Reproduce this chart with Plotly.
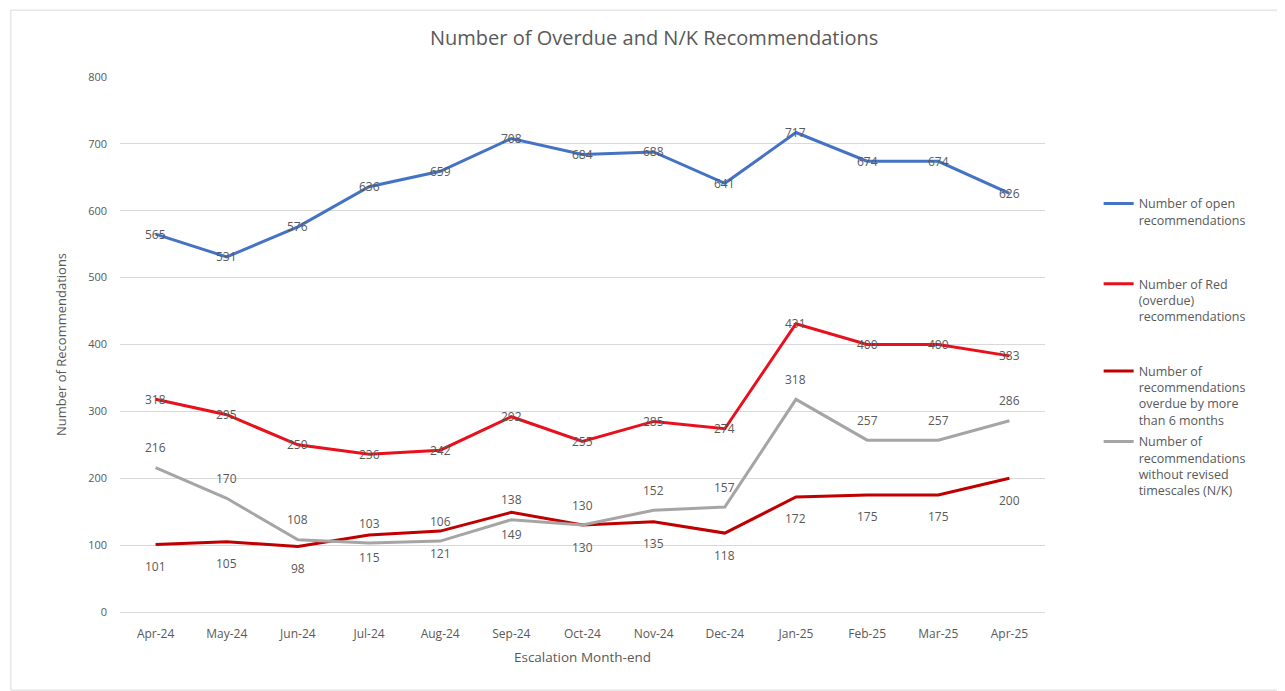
import plotly.graph_objects as go

months = ["Apr-24", "May-24", "Jun-24", "Jul-24", "Aug-24", "Sep-24", "Oct-24",
          "Nov-24", "Dec-24", "Jan-25", "Feb-25", "Mar-25", "Apr-25"]
open_recs = [565, 531, 576, 636, 659, 708, 684, 688, 641, 717, 674, 674, 626]
red_overdue = [318, 295, 250, 236, 242, 292, 255, 285, 274, 431, 400, 400, 383]
overdue_6m = [101, 105, 98, 115, 121, 149, 130, 135, 118, 172, 175, 175, 200]
no_timescale = [216, 170, 108, 103, 106, 138, 130, 152, 157, 318, 257, 257, 286]

names = [
    "Number of open<br>recommendations",
    "Number of Red<br>(overdue)<br>recommendations",
    "Number of<br>recommendations<br>overdue by more<br>than 6 months",
    "Number of<br>recommendations<br>without revised<br>timescales (N/K)",
]
colors = ["#4472C4", "#E8101C", "#C00000", "#A5A5A5"]
series = [open_recs, red_overdue, overdue_6m, no_timescale]
label_shift = [0, 0, -22, 20]   # vertical offset of data labels (px)
legends = ["legend", "legend2", "legend3", "legend4"]

FONT = "'Open Sans', 'Liberation Sans', sans-serif"
GREY_TXT = "#595959"

fig = go.Figure()
annotations = []
for name, col, vals, shift, lg in zip(names, colors, series, label_shift, legends):
    fig.add_trace(go.Scatter(
        x=months, y=vals, name=name, mode="lines",
        line=dict(color=col, width=3), legend=lg, hoverinfo="x+y",
    ))
    for m, v in zip(months, vals):
        annotations.append(dict(
            x=m, y=v, xref="x", yref="y", text=str(v), showarrow=False,
            yshift=shift, font=dict(family=FONT, size=12, color=GREY_TXT),
        ))

legend_common = dict(
    x=1.058, xanchor="left", yanchor="top",
    font=dict(family=FONT, size=12.5, color=GREY_TXT),
    bgcolor="rgba(0,0,0,0)", itemwidth=30, valign="top",
    tracegroupgap=0,
)
layout_legends = {}
for lg, ytop in zip(legends, [0.791, 0.641, 0.478, 0.346]):
    layout_legends[lg] = dict(legend_common, y=ytop)

# Page body has an 8px margin, so the figure is sized/offset accordingly.
fig.update_layout(
    width=1277, height=683,
    margin=dict(l=112, r=240, t=69, b=79),
    paper_bgcolor="white", plot_bgcolor="white",
    font=dict(family=FONT, color=GREY_TXT),
    title=dict(text="Number of Overdue and N/K Recommendations",
               x=0.506, xanchor="center", y=0.956, yanchor="middle",
               font=dict(family=FONT, size=20, color=GREY_TXT)),
    showlegend=True,
    xaxis=dict(
        title=dict(text="Escalation Month-end", font=dict(size=13.5, color=GREY_TXT), standoff=11),
        tickfont=dict(size=12, color=GREY_TXT),
        showgrid=False, showline=True, linecolor="#D9D9D9", linewidth=1,
        ticks="", ticklabelstandoff=11,
        range=[-0.5, 12.5], fixedrange=True,
    ),
    yaxis=dict(
        title=dict(text="Number of Recommendations", font=dict(size=13, color=GREY_TXT), standoff=18),
        tickfont=dict(size=11, color=GREY_TXT),
        range=[0, 800], dtick=100, showgrid=True, gridcolor="#D9D9D9",
        zeroline=False, showline=False, ticks="", ticklabelstandoff=12,
        fixedrange=True,
    ),
    annotations=annotations,
    shapes=[dict(type="rect", xref="paper", yref="paper",
                 x0=-0.118, x1=1.257, y0=-0.146, y1=1.125,
                 line=dict(color="#D9D9D9", width=1), fillcolor="rgba(0,0,0,0)",
                 layer="below")],
    **layout_legends,
)

fig.write_html("out.html")
